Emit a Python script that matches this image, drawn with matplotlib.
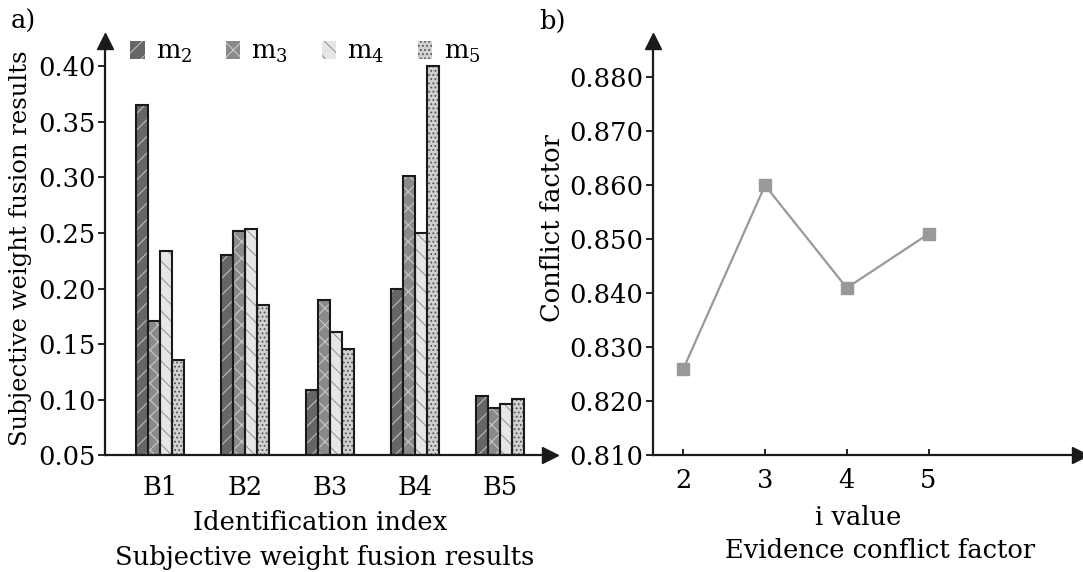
import numpy as np
import matplotlib
matplotlib.use("Agg")
import matplotlib.pyplot as plt

plt.rcParams['font.family'] = ['DejaVu Serif']
plt.rcParams['mathtext.fontset'] = 'dejavuserif'
plt.rcParams['hatch.linewidth'] = 0.8

# a) subjective weight fusion results
groups = ['B1', 'B2', 'B3', 'B4', 'B5']
series_names = ['m$_2$', 'm$_3$', 'm$_4$', 'm$_5$']
m2 = [0.365, 0.230, 0.109, 0.200, 0.103]
m3 = [0.171, 0.252, 0.190, 0.301, 0.093]
m4 = [0.234, 0.254, 0.161, 0.250, 0.096]
m5 = [0.136, 0.185, 0.146, 0.400, 0.101]

# b) evidence conflict factor
i_values = [2, 3, 4, 5]
conflict = [0.826, 0.860, 0.841, 0.851]

fig = plt.figure(figsize=(10.83, 5.72), dpi=100)
FS = 18.5


def arrow_axes(ax):
    for s in ['top', 'right']:
        ax.spines[s].set_visible(False)
    for s in ['left', 'bottom']:
        ax.spines[s].set_linewidth(1.6)
        ax.spines[s].set_color('#1a1a1a')
    ax.plot(1, 0, '>', color='#1a1a1a', ms=11, transform=ax.transAxes, clip_on=False)
    ax.plot(0, 1, '^', color='#1a1a1a', ms=11, transform=ax.transAxes, clip_on=False)


# ---- left chart
ax1 = fig.add_axes([0.097, 0.204, 0.411, 0.725])
arrow_axes(ax1)
x = np.arange(1, len(groups) + 1)
w = 0.14
styles = [('#666666', '#bbbbbb', '//'),
          ('#8a8a8a', '#c8c8c8', 'xx'),
          ('#e6e6e6', '#999999', '\\\\'),
          ('#d0d0d0', '#555555', '....')]
vals = [m2, m3, m4, m5]
handles = []
for k, (v, (fc, hc, h)) in enumerate(zip(vals, styles)):
    bars = ax1.bar(x + (k - 1.5) * w, np.array(v) - 0.05, w, bottom=0.05,
                   facecolor=fc, hatch=h, edgecolor=hc, linewidth=0, zorder=2)
    ax1.bar(x + (k - 1.5) * w, np.array(v) - 0.05, w, bottom=0.05,
            facecolor='none', edgecolor='#1a1a1a', linewidth=1.5, zorder=3)
    handles.append(bars)

ax1.set_xlim(0.35, 5.59)
ax1.set_ylim(0.05, 0.423)
yt1 = np.arange(0.05, 0.41, 0.05)
ax1.set_yticks(yt1)
ax1.set_yticklabels([f'{t:.2f}' for t in yt1])
ax1.set_xticks(x)
ax1.set_xticklabels(groups)
ax1.tick_params(axis='x', length=0, labelsize=FS, pad=14)
ax1.tick_params(axis='y', direction='out', length=5, width=1.2, labelsize=FS, pad=2)
ax1.set_ylabel('Subjective weight fusion results', fontsize=17.5)
ax1.yaxis.set_label_coords(-0.164, 0.5)
leg = ax1.legend(handles, series_names, ncol=4, loc='upper left',
                 bbox_to_anchor=(0.005, 1.06), frameon=False, fontsize=FS,
                 handlelength=0.55, handleheight=0.7, columnspacing=1.3,
                 handletextpad=0.45)
fig.text(0.296, 0.087, 'Identification index', ha='center', va='center', fontsize=FS)
fig.text(0.300, 0.026, 'Subjective weight fusion results', ha='center', va='center', fontsize=FS)
fig.text(0.022, 0.962, 'a)', ha='center', va='center', fontsize=FS)

# ---- right chart
ax2 = fig.add_axes([0.603, 0.204, 0.394, 0.725])
arrow_axes(ax2)
ax2.plot(i_values, conflict, '-s', color='#999999', lw=1.6, ms=9, zorder=3)
ax2.set_xlim(1.63, 6.85)
ax2.set_ylim(0.810, 0.8868)
yt = np.arange(0.810, 0.8801, 0.010)
ax2.set_yticks(yt)
ax2.set_yticklabels([f'{t:.3f}' for t in yt])
ax2.set_xticks(i_values)
ax2.tick_params(axis='x', direction='in', length=4, width=1.2, labelsize=FS, pad=9)
ax2.tick_params(axis='y', direction='out', length=5, width=1.2, labelsize=FS, pad=2)
ax2.set_ylabel('Conflict factor', fontsize=FS)
ax2.yaxis.set_label_coords(-0.206, 0.547)
fig.text(0.792, 0.096, 'i value', ha='center', va='center', fontsize=FS)
fig.text(0.813, 0.037, 'Evidence conflict factor', ha='center', va='center', fontsize=FS)
fig.text(0.510, 0.962, 'b)', ha='center', va='center', fontsize=FS)

fig.savefig('out.png', dpi=100)
